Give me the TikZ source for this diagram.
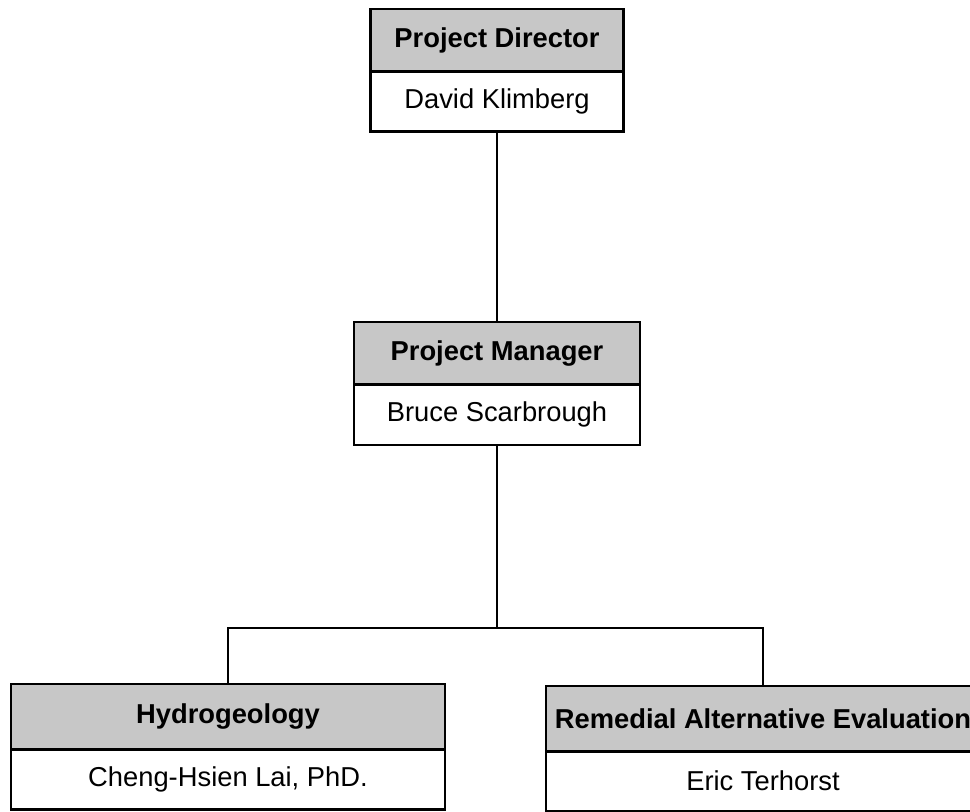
\documentclass[tikz,border=0pt]{standalone}
\usepackage{fontspec}
\setmainfont{Liberation Sans}
\usetikzlibrary{positioning}

\begin{document}
\begin{tikzpicture}[x=0.75pt, y=-0.75pt,
    cargo/.style={draw, line width=2pt, fill=black!22, inner sep=0pt, outer sep=0pt,
        minimum height=47pt, font=\bfseries\fontsize{20.5}{24}\selectfont},
    nombre/.style={draw, line width=2pt, fill=white, inner sep=0pt, outer sep=0pt,
        minimum height=45pt, font=\fontsize{20.5}{24}\selectfont},
    linea/.style={line width=2pt}]
    % Marco
    \useasboundingbox (0,0) rectangle (970,812);
    \clip (0,0) rectangle (970,812);
    
    % Director
    \node[cargo, minimum width=190pt] (dirHead) at (497,40.5) {Project Director};
    \node[nombre, minimum width=190pt, below=0pt of dirHead] (dirName) {David Klimberg};
    
    % Manager
    \node[cargo, minimum width=214.5pt] (mgrHead) at (497,353.5) {Project Manager};
    \node[nombre, minimum width=214.5pt, below=0pt of mgrHead] (mgrName) {Bruce Scarbrough};
    
    % Equipos
    \node[cargo, minimum width=325.5pt, minimum height=49pt] (hydHead) at (228,716.5) {Hydrogeology};
    \node[nombre, minimum width=325.5pt, below=0pt of hydHead] (hydName) {Cheng-Hsien Lai, PhD.};
    \node[cargo, minimum width=325.5pt, minimum height=49pt] (evalHead) at (763,718.5) {Remedial Alternative Evaluation};
    \node[nombre, minimum width=325.5pt, below=0pt of evalHead] (evalName) {Eric Terhorst};
    
    % Lineas
    \coordinate (barJoin) at (497,628);
    \draw[linea] (dirName.south) -- (mgrHead.north);
    \draw[linea] (mgrName.south) -- (barJoin);
    \draw[linea] (hydHead.north) |- (barJoin) -| (evalHead.north);
\end{tikzpicture}
\end{document}
